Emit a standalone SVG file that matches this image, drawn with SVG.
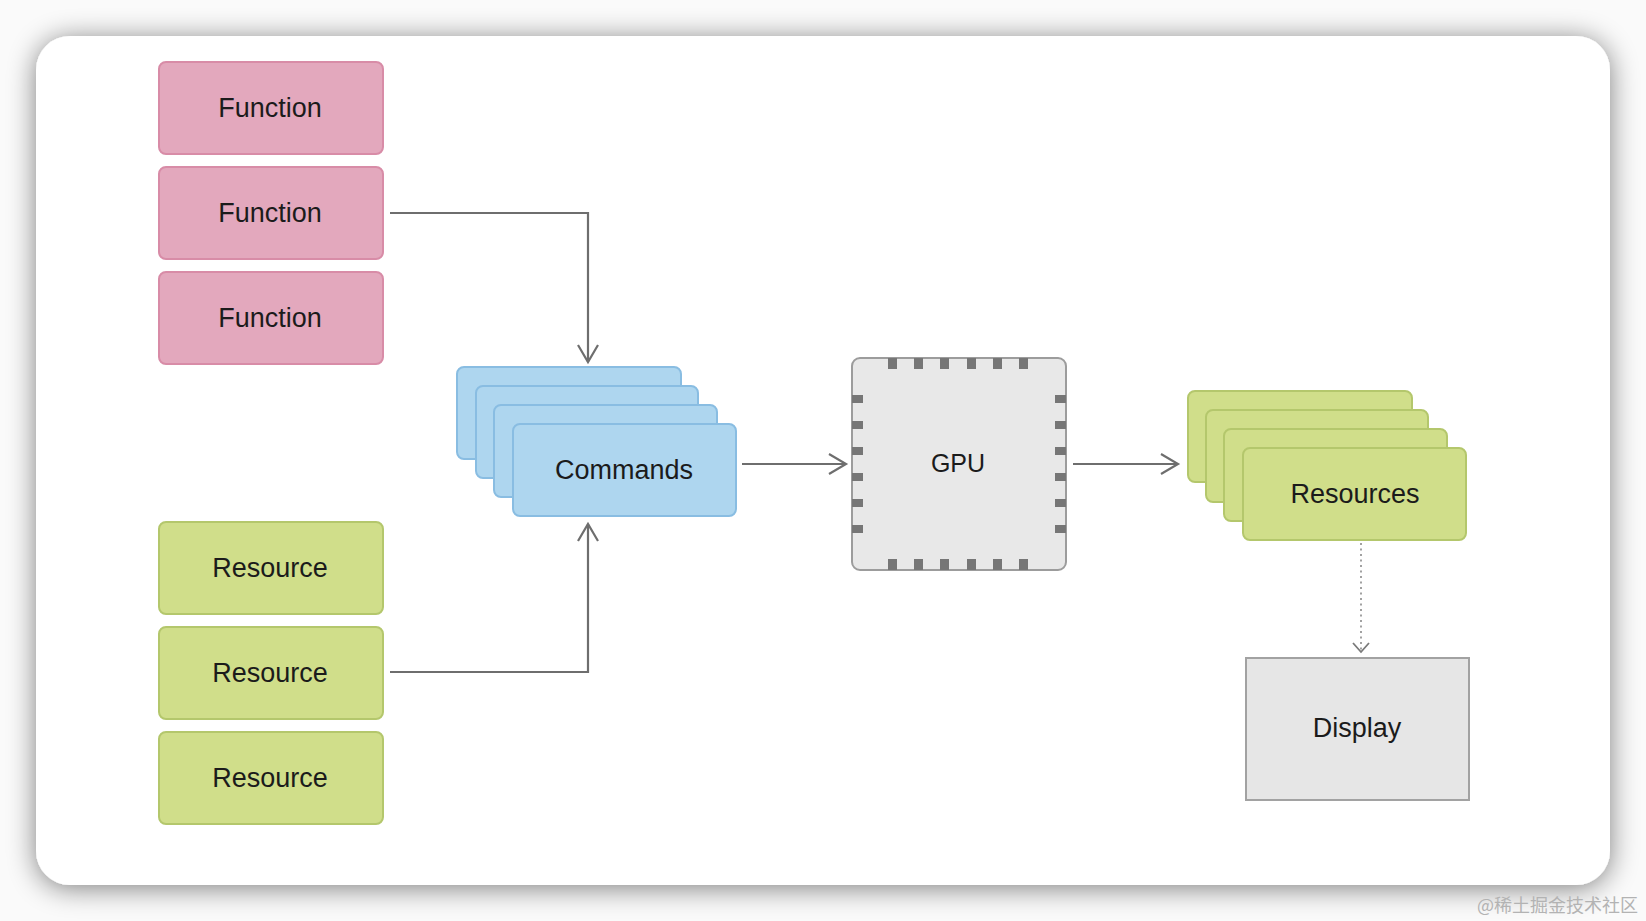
<svg xmlns="http://www.w3.org/2000/svg" width="1646" height="921" viewBox="0 0 1646 921">
<defs>
<style>
.lbl{font-family:"Liberation Sans",Arial,sans-serif;font-size:27px;fill:#1b1b1b;text-anchor:middle}
.fn{fill:#e3a8bd;stroke:#d88ca7;stroke-width:2}
.rs{fill:#d0de8a;stroke:#b4c76c;stroke-width:2}
.cmd{fill:#aed6ef;stroke:#89bde2;stroke-width:2}
.pin{fill:#767676}
.conn{fill:none;stroke:#6e6e6e;stroke-width:2.2}
.dot{fill:none;stroke:#8a8a8a;stroke-width:1.6;stroke-dasharray:2 3.5}
</style>
<filter id="shadow" x="-10%" y="-10%" width="120%" height="120%">
<feGaussianBlur in="SourceAlpha" stdDeviation="14"/>
<feOffset dy="3" result="b"/>
<feComponentTransfer><feFuncA type="linear" slope="0.5"/></feComponentTransfer>
<feMerge><feMergeNode/><feMergeNode in="SourceGraphic"/></feMerge>
</filter>
<marker id="arr" markerUnits="userSpaceOnUse" markerWidth="40" markerHeight="40" viewBox="-20 -20 40 40" refX="0" refY="0" orient="auto">
<path d="M-17,-10 L0,0 L-17,10" fill="none" stroke="#6e6e6e" stroke-width="2.2"/>
</marker>
<marker id="arrs" markerUnits="userSpaceOnUse" markerWidth="24" markerHeight="24" viewBox="-12 -12 24 24" refX="0" refY="0" orient="auto">
<path d="M-9,-8 L0,0 L-9,8" fill="none" stroke="#7a7a7a" stroke-width="1.8"/>
</marker>
</defs>
<rect x="0" y="0" width="1646" height="921" fill="#fafafa"/>
<rect x="36" y="36" width="1574" height="849" rx="34" fill="#ffffff" filter="url(#shadow)"/>

<g id="connectors">
<path class="conn" d="M390,213 H588 V362" marker-end="url(#arr)"/>
<path class="conn" d="M390,672 H588 V524" marker-end="url(#arr)"/>
<path class="conn" d="M742,464 H846" marker-end="url(#arr)"/>
<path class="conn" d="M1073,464 H1178" marker-end="url(#arr)"/>
<path class="dot" d="M1361,543 V652" marker-end="url(#arrs)"/>
</g>

<g id="function1"><rect class="fn" x="159" y="62" width="224" height="92" rx="7"/><text class="lbl" x="270" y="117">Function</text></g>
<g id="function2"><rect class="fn" x="159" y="167" width="224" height="92" rx="7"/><text class="lbl" x="270" y="222">Function</text></g>
<g id="function3"><rect class="fn" x="159" y="272" width="224" height="92" rx="7"/><text class="lbl" x="270" y="327">Function</text></g>

<g id="resource1"><rect class="rs" x="159" y="522" width="224" height="92" rx="7"/><text class="lbl" x="270" y="577">Resource</text></g>
<g id="resource2"><rect class="rs" x="159" y="627" width="224" height="92" rx="7"/><text class="lbl" x="270" y="682">Resource</text></g>
<g id="resource3"><rect class="rs" x="159" y="732" width="224" height="92" rx="7"/><text class="lbl" x="270" y="787">Resource</text></g>

<g id="commands">
<rect class="cmd" x="457" y="367" width="224" height="92" rx="7"/>
<rect class="cmd" x="476" y="386" width="222" height="92" rx="7"/>
<rect class="cmd" x="494" y="405" width="223" height="92" rx="7"/>
<rect class="cmd" x="513" y="424" width="223" height="92" rx="7"/>
<text class="lbl" x="624" y="479">Commands</text>
</g>

<g id="gpu">
<rect x="852" y="358" width="214" height="212" rx="8" fill="#e8e8e8" stroke="#9c9c9c" stroke-width="2"/>
<rect class="pin" x="888" y="358" width="9" height="11"/>
<rect class="pin" x="914" y="358" width="9" height="11"/>
<rect class="pin" x="940" y="358" width="9" height="11"/>
<rect class="pin" x="967" y="358" width="9" height="11"/>
<rect class="pin" x="993" y="358" width="9" height="11"/>
<rect class="pin" x="1019" y="358" width="9" height="11"/>
<rect class="pin" x="888" y="559" width="9" height="11"/>
<rect class="pin" x="914" y="559" width="9" height="11"/>
<rect class="pin" x="940" y="559" width="9" height="11"/>
<rect class="pin" x="967" y="559" width="9" height="11"/>
<rect class="pin" x="993" y="559" width="9" height="11"/>
<rect class="pin" x="1019" y="559" width="9" height="11"/>
<rect class="pin" x="852" y="395" width="11" height="8"/>
<rect class="pin" x="852" y="421" width="11" height="8"/>
<rect class="pin" x="852" y="447" width="11" height="8"/>
<rect class="pin" x="852" y="473" width="11" height="8"/>
<rect class="pin" x="852" y="499" width="11" height="8"/>
<rect class="pin" x="852" y="525" width="11" height="8"/>
<rect class="pin" x="1055" y="395" width="11" height="8"/>
<rect class="pin" x="1055" y="421" width="11" height="8"/>
<rect class="pin" x="1055" y="447" width="11" height="8"/>
<rect class="pin" x="1055" y="473" width="11" height="8"/>
<rect class="pin" x="1055" y="499" width="11" height="8"/>
<rect class="pin" x="1055" y="525" width="11" height="8"/>
<text class="lbl" x="958" y="472" style="font-size:25px">GPU</text>
</g>

<g id="resources">
<rect class="rs" x="1188" y="391" width="224" height="91" rx="7"/>
<rect class="rs" x="1206" y="410" width="222" height="92" rx="7"/>
<rect class="rs" x="1224" y="429" width="223" height="92" rx="7"/>
<rect class="rs" x="1243" y="448" width="223" height="92" rx="7"/>
<text class="lbl" x="1355" y="503">Resources</text>
</g>

<g id="display">
<rect x="1246" y="658" width="223" height="142" fill="#e6e6e6" stroke="#a2a2a2" stroke-width="2"/>
<text class="lbl" x="1357" y="737">Display</text>
</g>

<text x="1638" y="912" style="font-family:'Noto Sans CJK SC','Liberation Serif',serif;font-size:18px;fill:#b3b3b3;text-anchor:end">@稀土掘金技术社区</text>
</svg>
